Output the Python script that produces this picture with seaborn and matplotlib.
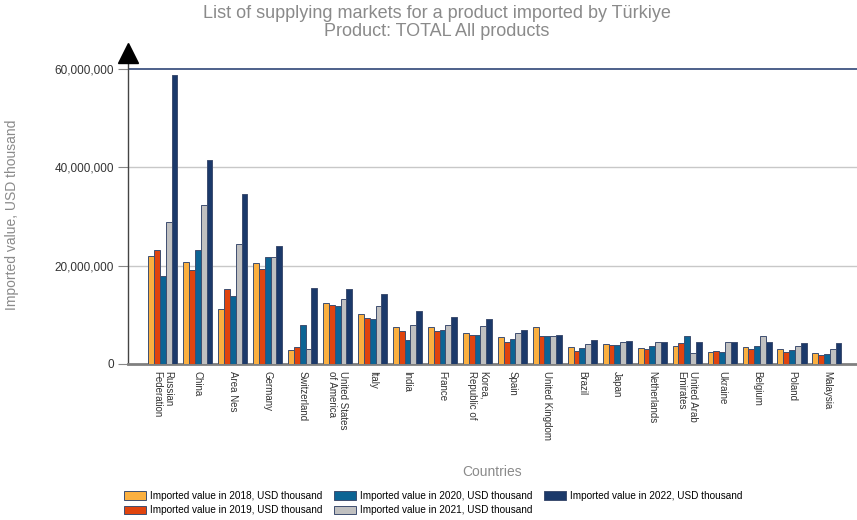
import matplotlib
matplotlib.use("Agg")
import matplotlib.pyplot as plt
import seaborn as sns
import pandas as pd

countries = [
    "Russian\nFederation", "China", "Area Nes", "Germany", "Switzerland",
    "United States\nof America", "Italy", "India", "France", "Korea,\nRepublic of",
    "Spain", "United Kingdom", "Brazil", "Japan", "Netherlands",
    "United Arab\nEmirates", "Ukraine", "Belgium", "Poland", "Malaysia",
]

# Imported values, USD thousand
v2018 = [22000000, 20700000, 11200000, 20500000, 2800000, 12400000, 10100000, 7600000, 7600000, 6400000,
         5500000, 7600000, 3400000, 4100000, 3300000, 3700000, 2500000, 3500000, 3100000, 2200000]
v2019 = [23100000, 19100000, 15200000, 19400000, 3400000, 11900000, 9400000, 6800000, 6800000, 5800000,
         4500000, 5600000, 2600000, 3800000, 3000000, 4300000, 2700000, 3100000, 2500000, 1800000]
v2020 = [17800000, 23100000, 13800000, 21800000, 7900000, 11700000, 9200000, 4900000, 7000000, 5800000,
         5100000, 5600000, 3200000, 3800000, 3700000, 5600000, 2500000, 3700000, 2900000, 2000000]
v2021 = [28900000, 32300000, 24500000, 21700000, 3100000, 13200000, 11700000, 7900000, 7900000, 7800000,
         6400000, 5600000, 4000000, 4500000, 4400000, 2300000, 4400000, 5600000, 3700000, 3100000]
v2022 = [58800000, 41400000, 34600000, 24100000, 15500000, 15300000, 14200000, 10800000, 9500000, 9100000,
         7000000, 6000000, 4900000, 4700000, 4400000, 4400000, 4400000, 4400000, 4300000, 4300000]

series_names = [f"Imported value in {y}, USD thousand" for y in (2018, 2019, 2020, 2021, 2022)]
series_values = [v2018, v2019, v2020, v2021, v2022]
colors = ["#FBB040", "#E0440E", "#0C6494", "#C0C0C0", "#1B396A"]

df = pd.DataFrame(
    [(c, s, v) for s, vals in zip(series_names, series_values) for c, v in zip(countries, vals)],
    columns=["country", "series", "value"],
)

W, H = 857, 520
fig = plt.figure(figsize=(W / 100, H / 100), dpi=100)
ax_left, ax_right, ax_bottom, ax_top = 128, 857, 364, 53
ax = fig.add_axes([ax_left / W, (H - ax_bottom) / H, (ax_right - ax_left) / W, (ax_bottom - ax_top) / H])

sns.barplot(
    data=df, x="country", y="value", hue="series", order=countries, hue_order=series_names,
    palette=colors, saturation=1, width=0.83, ax=ax, edgecolor="#3e4e70", linewidth=0.7, zorder=3,
)

px_per_val = (364 - 69) / 60000000
ax.set_ylim(0, (ax_bottom - ax_top) / px_per_val)
ax.set_xlim(-1.0, 19.86)

ax.set_yticks([0, 20000000, 40000000, 60000000])
ax.set_yticklabels(["0", "20,000,000", "40,000,000", "60,000,000"],
                   fontsize=8.5, color="#333333", family="Liberation Sans")
ax.tick_params(axis="y", length=7, width=0.8, color="#888888", pad=3)
ax.tick_params(axis="x", length=0, pad=5)
for lab in ax.get_xticklabels():
    lab.set_rotation(-90)
    lab.set_fontsize(7)
    lab.set_family("Liberation Sans")
    lab.set_color("#333333")
    lab.set_va("top")
    lab.set_ha("center")
    lab.set_multialignment("left")

# horizontal grid
for yv in (20000000, 40000000):
    ax.axhline(yv, color="#C8C8C8", lw=1, zorder=0)
ax.axhline(60000000, color="#2F4677", lw=1.2, zorder=0)

for s in ("top", "right"):
    ax.spines[s].set_visible(False)
ax.spines["left"].set_color("#444444")
ax.spines["left"].set_linewidth(1)
ax.spines["bottom"].set_color("#808080")
ax.spines["bottom"].set_linewidth(2)
ax.plot([0], [1], marker="^", markersize=14, color="black", transform=ax.transAxes, clip_on=False, zorder=5)

ax.set_xlabel("Countries", fontsize=10, color="#8a8a8a", family="Liberation Sans", labelpad=0)
ax.xaxis.set_label_coords(0.5, -(465 - 364) / (ax_bottom - ax_top))
ax.set_ylabel("")
fig.text(12 / W, 1 - 215 / H, "Imported value, USD thousand", rotation=90, ha="center", va="center",
         fontsize=10, color="#8a8a8a", family="Liberation Sans")

fig.text(437 / W, 1 - 14 / H, "List of supplying markets for a product imported by Türkiye",
         ha="center", va="center", fontsize=13, color="#8a8a8a", family="Liberation Sans")
fig.text(437 / W, 1 - 32 / H, "Product: TOTAL All products",
         ha="center", va="center", fontsize=13, color="#8a8a8a", family="Liberation Sans")

handles, labels = ax.get_legend_handles_labels()
ax.get_legend().remove()
fig.legend(handles, labels, loc="upper left", bbox_to_anchor=(124 / W, 1 - 491 / H), ncol=3,
           frameon=False, prop={"family": "Liberation Sans", "size": 7.2}, handlelength=2.2,
           handleheight=0.9, handletextpad=0.45, columnspacing=1.1, labelspacing=0.42,
           borderaxespad=0, borderpad=0)

fig.savefig("out.png", dpi=100)
